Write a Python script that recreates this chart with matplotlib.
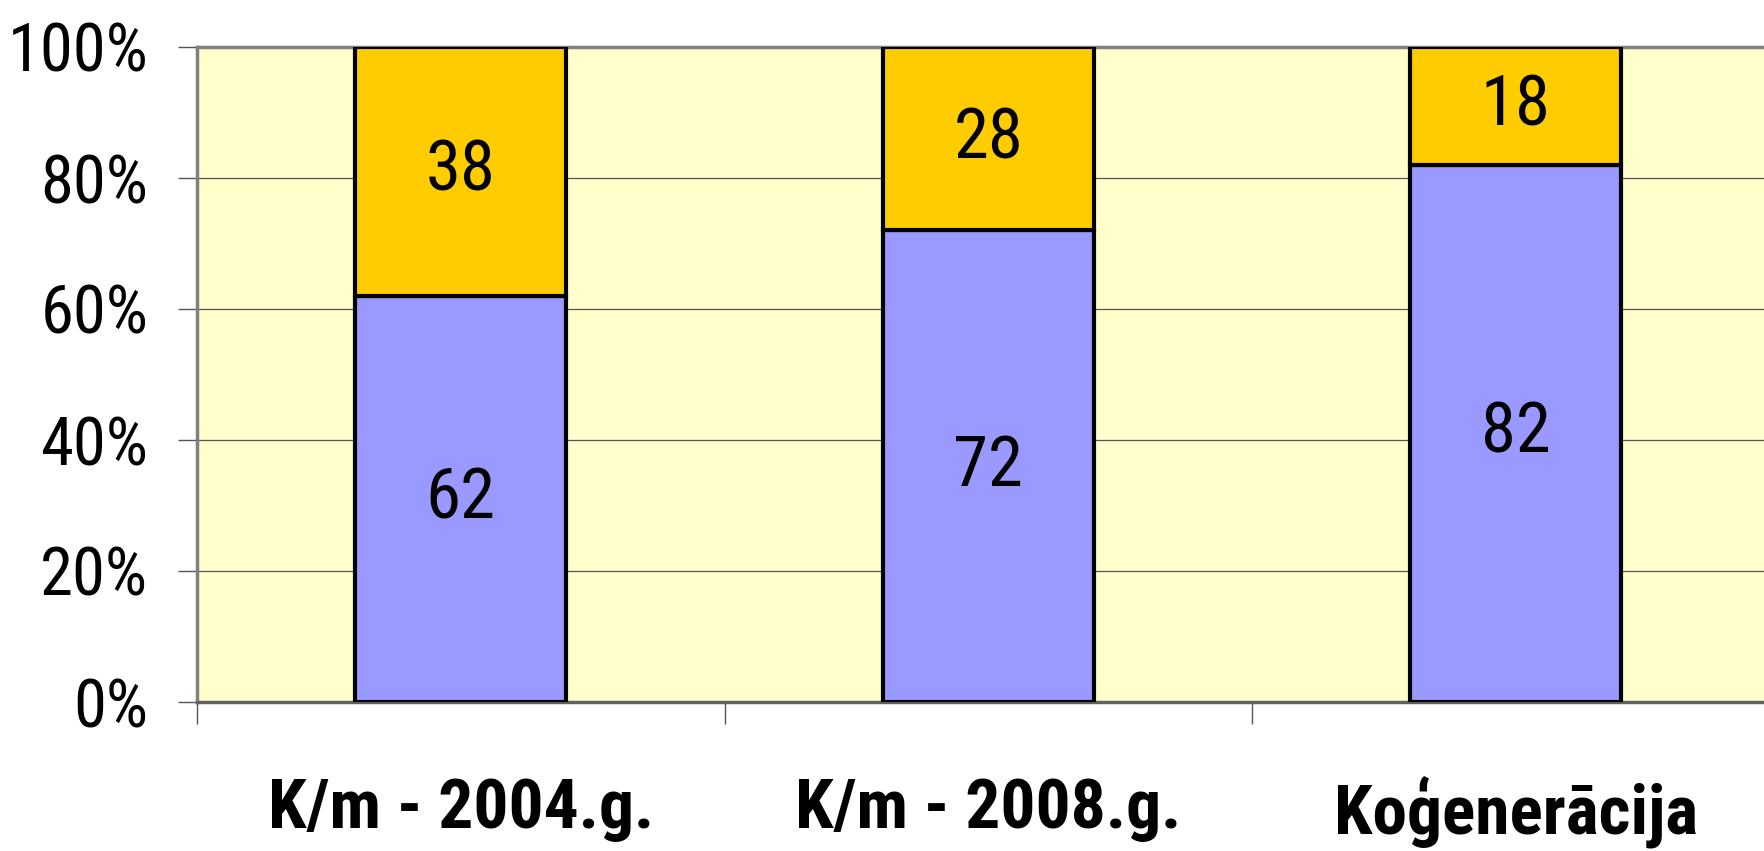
import matplotlib
matplotlib.use("Agg")
import matplotlib.pyplot as plt
from matplotlib import font_manager
import numpy as np

categories = ["K/m - 2004.g.", "K/m - 2008.g.", "Koģenerācija"]
lower_vals = [62, 72, 82]
upper_vals = [38, 28, 18]
ytick_vals = [0, 20, 40, 60, 80, 100]
ytick_labels = ["0%", "20%", "40%", "60%", "80%", "100%"]

fonts = font_manager.fontManager.ttflist
bold_names = {f.name for f in fonts if isinstance(f.weight, int) and f.weight >= 700 and "[" not in f.fname}
prefs = ["Liberation Sans Narrow", "Arial Narrow", "Roboto Condensed", "PT Sans Narrow",
         "Archivo Narrow", "Open Sans Condensed", "Saira SemiCondensed", "Liberation Sans"]
fam = next(p for p in prefs if p in bold_names)
plt.rcParams['font.family'] = [fam, 'DejaVu Sans']

fig = plt.figure(figsize=(17.65, 8.51), dpi=100)
ax = fig.add_axes([197/1765, 149/851, 1582.5/1765, 655/851])
ax.set_facecolor("#FFFFCC")

x = np.arange(len(categories))
w = 0.40
ax.bar(x, lower_vals, w, color="#9999FF", edgecolor="black", linewidth=3, zorder=3)
ax.bar(x, upper_vals, w, bottom=lower_vals, color="#FFCC00", edgecolor="black", linewidth=3, zorder=3)

for xi, lo, up in zip(x, lower_vals, upper_vals):
    ax.text(xi, lo / 2, str(lo), ha="center", va="center", fontsize=51, zorder=4)
    ax.text(xi, lo + up / 2, str(up), ha="center", va="center", fontsize=51, zorder=4)

ax.set_xlim(-0.5, len(categories) - 0.5)
ax.set_ylim(0, 100)
ax.set_yticks(ytick_vals)
ax.set_yticklabels(ytick_labels, fontsize=48)
ax.yaxis.grid(True, color="#555555", linewidth=0.9, zorder=1)
ax.set_axisbelow(True)

ax.set_xticks(np.arange(len(categories) + 1) - 0.5)
ax.set_xticklabels([])
ax.set_xticks(x, minor=True)
ax.set_xticklabels(categories, minor=True, fontsize=50, fontweight="bold")
ax.tick_params(axis="x", which="minor", length=0, pad=54)
ax.tick_params(axis="x", which="major", length=16, width=1, color="#555555", direction="out")
ax.tick_params(axis="y", length=14, width=1, color="#555555", pad=21)

for s in ["left", "top", "bottom"]:
    ax.spines[s].set_color("#808080")
    ax.spines[s].set_linewidth(2.5)
ax.spines["bottom"].set_color("#606060")
ax.spines["right"].set_visible(False)

fig.savefig("out.png", dpi=100, facecolor="white")
